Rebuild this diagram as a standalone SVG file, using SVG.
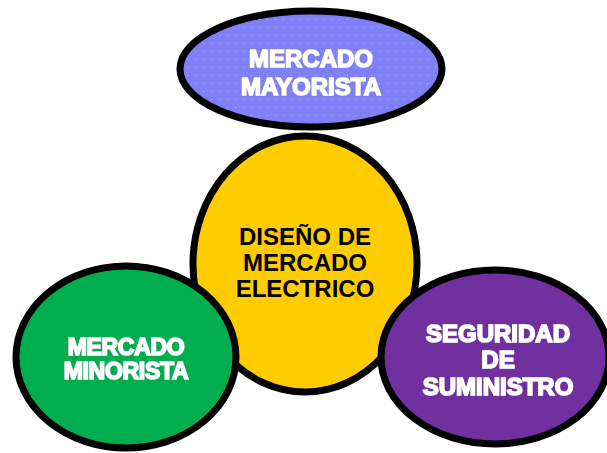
<svg xmlns="http://www.w3.org/2000/svg" width="607" height="453" viewBox="0 0 607 453">
<style>
.n{stroke:#000;stroke-width:7}
.w{font-family:"Liberation Sans",Arial,sans-serif;font-weight:bold;fill:#fff;stroke:#fff;stroke-width:1.6;text-anchor:middle;filter:url(#sh)}
.b{font-family:"Liberation Sans",Arial,sans-serif;font-weight:bold;fill:#000;text-anchor:middle;font-size:24px}
</style>
<defs>
<pattern id="dots" width="8" height="8" patternUnits="userSpaceOnUse">
<rect width="8" height="8" fill="#7f7ff6"/>
<rect x="3" y="3" width="1" height="1" fill="#b8b8ff"/>
</pattern>
<filter id="sh" x="-10%" y="-30%" width="120%" height="160%">
<feDropShadow dx="0" dy="0" stdDeviation="0.7" flood-color="#444" flood-opacity="0.9"/>
</filter>
</defs>
<g id="connectors"></g>
<g id="mayorista">
<ellipse class="n" cx="311" cy="69" rx="131" ry="58" fill="url(#dots)"/>
<text class="w" x="311" y="67" font-size="24">MERCADO</text>
<text class="w" x="311" y="95" font-size="24">MAYORISTA</text>
</g>
<g id="diseno">
<ellipse class="n" cx="305" cy="264" rx="112" ry="128" fill="#ffcc00"/>
<text class="b" x="305" y="245">DISEÑO DE</text>
<text class="b" x="305" y="271">MERCADO</text>
<text class="b" x="305" y="297">ELECTRICO</text>
</g>
<g id="minorista">
<ellipse class="n" cx="126" cy="357" rx="110" ry="91" fill="#00ae50"/>
<text class="w" x="126" y="355" font-size="23" letter-spacing="-0.3">MERCADO</text>
<text class="w" x="126" y="379" font-size="23" letter-spacing="-0.3">MINORISTA</text>
</g>
<g id="seguridad">
<ellipse class="n" cx="495" cy="357" rx="114" ry="87" fill="#7030a0"/>
<text class="w" x="498" y="342" font-size="24">SEGURIDAD</text>
<text class="w" x="498" y="368" font-size="24">DE</text>
<text class="w" x="498" y="395" font-size="24">SUMINISTRO</text>
</g>
</svg>
